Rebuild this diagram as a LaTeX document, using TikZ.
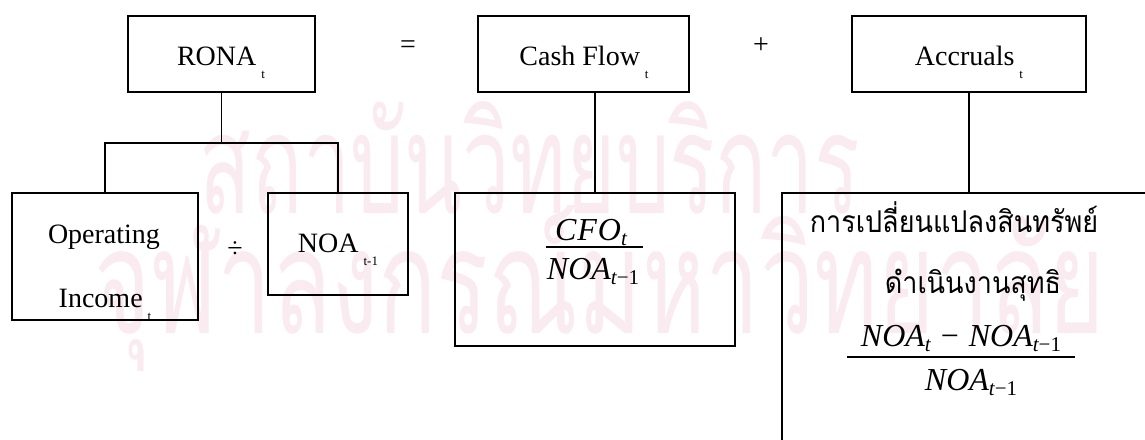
\documentclass[tikz,border=0pt]{standalone}
\usepackage{fontspec}
\setmainfont{Liberation Serif}
\newfontfamily\thaifont[Script=Thai]{Loma}
\definecolor{wmark}{RGB}{250,235,241}
% small lowered subscript used in the box titles
\newcommand{\lowsub}[1]{\hspace{2.5pt}\smash{\raisebox{-6.5pt}{\fontsize{6.5}{7}\selectfont #1}}}
% italic subscript for the ratios
\newcommand{\isub}[1]{\raisebox{-2.5pt}{\fontsize{10.5}{12}\selectfont #1}}
% Thai text, narrowed a little
\newcommand{\thline}[1]{\scalebox{0.9}[1]{#1}}
\begin{document}
\begin{tikzpicture}[x=0.5pt,y=-0.5pt,
  box/.style={draw,line width=1pt,inner sep=0pt},
  link/.style={line width=0.85pt},
  lbl/.style={font=\fontsize{14}{16}\selectfont,inner sep=0pt,anchor=base},
  mth/.style={font=\fontsize{16}{18}\selectfont\itshape,inner sep=0pt,anchor=base},
  thai/.style={font=\fontsize{15}{18}\selectfont\thaifont,inner sep=0pt,anchor=base},
  wm/.style={text=wmark,inner sep=0pt,anchor=base},
  fracbar/.style={line width=0.8pt}]
\useasboundingbox (0,0) rectangle (1145,439);
\clip (0,0) rectangle (1145,439);

% background mark
\node[wm] (wm1) at (530,213) {\resizebox{330pt}{56pt}{\thaifont สถาบันวิทยบริการ}};
\node[wm] (wm2) at (600,333) {\resizebox{505pt}{64pt}{\thaifont จุฬาลงกรณ์มหาวิทยาลัย}};

% top row
\node[box,minimum width=93.5pt,minimum height=38pt] (rona) at (221.5,54) {};
\node[box,minimum width=105.5pt,minimum height=38pt] (cash) at (583.5,54) {};
\node[box,minimum width=117pt,minimum height=38pt] (accr) at (969,54) {};
\node[lbl] (rona-t) at (221,65) {RONA\lowsub{t}};
\node[lbl] (cash-t) at (584,65) {Cash Flow\lowsub{t}};
\node[lbl] (accr-t) at (969,65) {Accruals\lowsub{t}};
\node[lbl] (eq) at (408,53) {=};
\node[lbl] (plus) at (761,54) {+};

% bottom row
\node[box,minimum width=93pt,minimum height=63.5pt] (opinc) at (105,256.5) {};
\node[box,minimum width=70pt,minimum height=51pt] (noa) at (338,244) {};
\node[box,minimum width=140pt,minimum height=76.5pt] (cfo) at (595,269.5) {};
\node[box,minimum width=191.5pt,minimum height=136pt] (chg) at (973.5,329) {};

\node[lbl] (opinc-1) at (104,243) {Operating};
\node[lbl] (opinc-2) at (105,307) {Income\lowsub{t}};
\node[lbl] (div) at (235,257) {÷};
\node[lbl] (noa-t) at (338,252) {NOA\lowsub{t-1}};

\node[mth] (cfo-num) at (591,240) {C\kern0.5pt F\kern0.5pt O\isub{t}};
\draw[fracbar] (546,247) -- (643,247);
\node[mth] (cfo-den) at (593,279) {NOA\isub{t\upshape −1}};

\node[thai] (chg-1) at (954,232) {\thline{การเปลี่ยนแปลงสินทรัพย์}};
\node[thai] (chg-2) at (973,293) {\thline{ดำเนินงานสุทธิ}};
\node[mth] (chg-num) at (961,346) {NOA\isub{t}\hspace{5pt}\upshape −\hspace{5pt}\itshape NOA\isub{t\upshape −1}};
\draw[fracbar] (847,357) -- (1075,357);
\node[mth] (chg-den) at (971,390) {NOA\isub{t\upshape −1}};

% connectors
\coordinate (split) at (221.5,143);
\draw[link] (rona.south) -- (split);
\draw[link] (opinc.north) |- (split) -| (noa.north);
\draw[link] (cfo.north |- cash.south) -- (cfo.north);
\draw[link] (accr.south) -- (accr.south |- chg.north);
\end{tikzpicture}
\end{document}
